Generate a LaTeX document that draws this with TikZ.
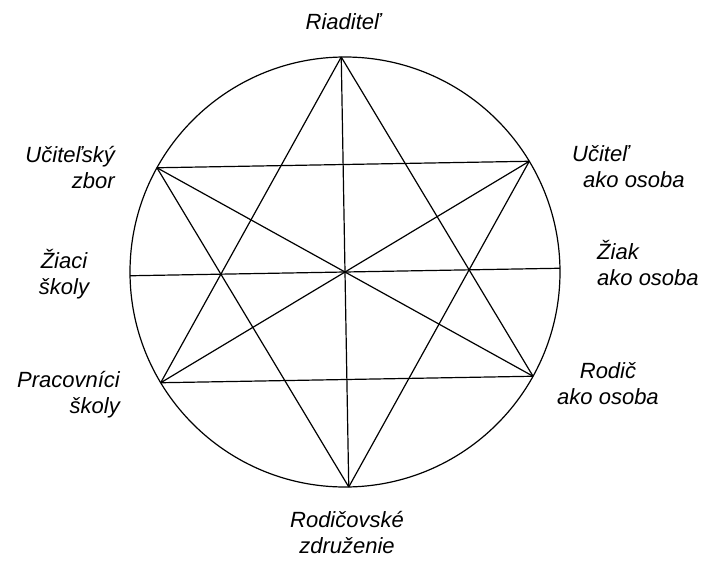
\documentclass[tikz,border=0pt]{standalone}
\usepackage{fontspec}
\setmainfont{Liberation Sans}
\usetikzlibrary{positioning}
\begin{document}
\begin{tikzpicture}[
    x=1pt, y=1pt,
    lbl/.style={font=\fontsize{22}{26}\selectfont\itshape, inner sep=0pt},
    chord/.style={line width=1.2pt, draw=black}
]
\useasboundingbox (-345,-288) rectangle (358,272);
\coordinate (c) at (0,0);
\coordinate (riad) at (91:215);
\coordinate (ucit) at (31:215);
\coordinate (ziak) at (1:215);
\coordinate (rodic) at (-29:215);
\coordinate (zdruz) at (-89:215);
\coordinate (prac) at (211:215);
\coordinate (ziaci) at (181:215);
\coordinate (zbor) at (151:215);
\draw[chord] (c) circle[radius=215];
% horizontal chords
\draw[chord] (zbor) -- (ucit);
\draw[chord] (ziaci) -- (ziak);
\draw[chord] (prac) -- (rodic);
% vertical and diagonals
\draw[chord] (riad) -- (zdruz);
\draw[chord] (zbor) -- (rodic);
\draw[chord] (ucit) -- (prac);
% star
\draw[chord] (riad) -- (prac);
\draw[chord] (riad) -- (rodic);
\draw[chord] (zdruz) -- (zbor);
\draw[chord] (zdruz) -- (ucit);
% labels
\node[lbl] (lriad) at (-2,250) {Riaditeľ};
\node[lbl, align=right, anchor=east] (lzbor) at (-230,104) {Učiteľský\\zbor\hspace{5pt}};
\node[lbl, align=center] (lziaci) at (-281,-2) {Žiaci\\školy};
\node[lbl, align=right, anchor=east] (lprac) at (-225,-123) {Pracovníci\\školy};
\node[lbl, align=left, anchor=west] (lucit) at (227,105) {Učiteľ\\\hspace{11pt}ako osoba};
\node[lbl, align=left, anchor=west] (lziak) at (252,9) {Žiak\\ako osoba};
\node[lbl, align=center] (lrodic) at (263,-112) {Rodič\\ako osoba};
\node[lbl, align=center] (lzdruz) at (2,-261) {Rodičovské\\združenie};
\end{tikzpicture}
\end{document}
